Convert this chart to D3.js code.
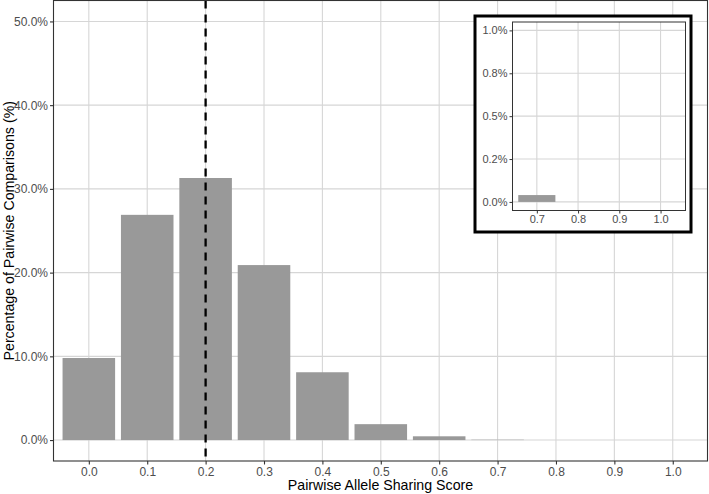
<!DOCTYPE html>
<html>
<head>
<meta charset="utf-8">
<script src="https://cdn.jsdelivr.net/npm/d3@7"></script>
<style>
  html, body { margin: 0; padding: 0; background: #fff; }
  svg { display: block; font-family: "Liberation Sans", Arial, sans-serif; }
</style>
</head>
<body>
<svg id="chart" width="709" height="494"></svg>
<script>
// ---- data ----
const scores = [0.0, 0.1, 0.2, 0.3, 0.4, 0.5, 0.6, 0.7, 0.8, 0.9, 1.0];
const percents = [9.8, 26.9, 31.3, 20.9, 8.1, 1.9, 0.45, 0.04, 0, 0, 0];
const xTicks = [0.0, 0.1, 0.2, 0.3, 0.4, 0.5, 0.6, 0.7, 0.8, 0.9, 1.0];
const yTicks = [0, 10, 20, 30, 40, 50];
const insetScores = [0.7, 0.8, 0.9, 1.0];
const insetPercents = [0.04, 0, 0, 0];
const insetXTicks = [0.7, 0.8, 0.9, 1.0];
const insetYTicks = [0, 0.25, 0.5, 0.75, 1.0];
const insetYLabels = ["0.0%", "0.2%", "0.5%", "0.8%", "1.0%"];
const threshold = 0.2;
const barWidth = 0.09;

const svg = d3.select("#chart");
const gridColor = "#d6d6d6";
const borderColor = "#333333";
const barColor = "#999999";
const tickText = "#4d4d4d";

// ---- main panel ----
const P = {left: 53.5, right: 707.5, top: 0.5, bottom: 461};
const x = d3.scaleLinear().domain([-0.0605, 1.0595]).range([P.left, P.right]);
const y = d3.scaleLinear().domain([-2.5, 52.5]).range([P.bottom, P.top]);

const g = svg.append("g");
g.append("rect").attr("x", P.left).attr("y", P.top)
  .attr("width", P.right - P.left).attr("height", P.bottom - P.top).attr("fill", "#fff");

g.selectAll(".vgrid").data(xTicks).join("line")
  .attr("x1", d => x(d)).attr("x2", d => x(d)).attr("y1", P.top).attr("y2", P.bottom)
  .attr("stroke", gridColor).attr("stroke-width", 1.1);
g.selectAll(".hgrid").data(yTicks).join("line")
  .attr("x1", P.left).attr("x2", P.right).attr("y1", d => y(d)).attr("y2", d => y(d))
  .attr("stroke", gridColor).attr("stroke-width", 1.1);

g.selectAll(".bar").data(scores.map((s, i) => ({s, v: percents[i]})).filter(d => d.v > 0)).join("rect")
  .attr("x", d => x(d.s - barWidth / 2)).attr("width", d => x(d.s + barWidth / 2) - x(d.s - barWidth / 2))
  .attr("y", d => y(d.v)).attr("height", d => y(0) - y(d.v)).attr("fill", barColor);

g.append("line").attr("x1", x(threshold)).attr("x2", x(threshold))
  .attr("y1", P.top).attr("y2", P.bottom)
  .attr("stroke", "#000").attr("stroke-width", 2.3).attr("stroke-dasharray", "8,6");

g.append("rect").attr("x", P.left).attr("y", P.top)
  .attr("width", P.right - P.left).attr("height", P.bottom - P.top)
  .attr("fill", "none").attr("stroke", borderColor).attr("stroke-width", 1.1);

// axes
const xAxis = g.append("g").attr("transform", `translate(0,${P.bottom})`)
  .call(d3.axisBottom(x).tickValues(xTicks).tickFormat(d3.format(".1f")).tickSize(3.5).tickPadding(2.5));
const yAxis = g.append("g").attr("transform", `translate(${P.left},0)`)
  .call(d3.axisLeft(y).tickValues(yTicks).tickFormat(d => d3.format(".1f")(d) + "%").tickSize(3.5).tickPadding(2));
[xAxis, yAxis].forEach(a => {
  a.select(".domain").remove();
  a.selectAll(".tick line").attr("stroke", borderColor).attr("stroke-width", 1.1);
  a.selectAll(".tick text").attr("fill", tickText).style("font-size", "12px")
    .style("font-family", "'Liberation Sans', Arial, sans-serif");
});

svg.append("text").attr("x", (P.left + P.right) / 2).attr("y", 490)
  .attr("text-anchor", "middle").style("font-size", "14.2px").attr("fill", "#000")
  .text("Pairwise Allele Sharing Score");
svg.append("text").attr("transform", `translate(13.5,${(P.top + P.bottom) / 2}) rotate(-90)`)
  .attr("text-anchor", "middle").style("font-size", "14.2px").attr("fill", "#000")
  .text("Percentage of Pairwise Comparisons (%)");

// ---- inset ----
const I = {left: 512.5, right: 685.5, top: 22, bottom: 210.5};
const ix = d3.scaleLinear().domain([0.641, 1.0605]).range([I.left, I.right]);
const iy = d3.scaleLinear().domain([-0.05, 1.049]).range([I.bottom, I.top]);

const ig = svg.append("g");
ig.append("rect").attr("x", 475).attr("y", 16).attr("width", 216).attr("height", 216)
  .attr("fill", "#fff").attr("stroke", "#000").attr("stroke-width", 3);

ig.selectAll(".ivgrid").data(insetXTicks).join("line")
  .attr("x1", d => ix(d)).attr("x2", d => ix(d)).attr("y1", I.top).attr("y2", I.bottom)
  .attr("stroke", gridColor).attr("stroke-width", 1.1);
ig.selectAll(".ihgrid").data(insetYTicks).join("line")
  .attr("x1", I.left).attr("x2", I.right).attr("y1", d => iy(d)).attr("y2", d => iy(d))
  .attr("stroke", gridColor).attr("stroke-width", 1.1);

ig.selectAll(".ibar").data(insetScores.map((s, i) => ({s, v: insetPercents[i]})).filter(d => d.v > 0)).join("rect")
  .attr("x", d => ix(d.s - barWidth / 2)).attr("width", d => ix(d.s + barWidth / 2) - ix(d.s - barWidth / 2))
  .attr("y", d => iy(d.v)).attr("height", d => iy(0) - iy(d.v)).attr("fill", barColor);

ig.append("rect").attr("x", I.left).attr("y", I.top)
  .attr("width", I.right - I.left).attr("height", I.bottom - I.top)
  .attr("fill", "none").attr("stroke", borderColor).attr("stroke-width", 1);

const ixAxis = ig.append("g").attr("transform", `translate(0,${I.bottom})`)
  .call(d3.axisBottom(ix).tickValues(insetXTicks).tickFormat(d3.format(".1f")).tickSize(3).tickPadding(2));
const iyAxis = ig.append("g").attr("transform", `translate(${I.left},0)`)
  .call(d3.axisLeft(iy).tickValues(insetYTicks).tickFormat((d, i) => insetYLabels[i]).tickSize(3).tickPadding(2));
[ixAxis, iyAxis].forEach(a => {
  a.select(".domain").remove();
  a.selectAll(".tick line").attr("stroke", borderColor).attr("stroke-width", 1);
  a.selectAll(".tick text").attr("fill", tickText).style("font-size", "11px")
    .style("font-family", "'Liberation Sans', Arial, sans-serif");
});
</script>
</body>
</html>
